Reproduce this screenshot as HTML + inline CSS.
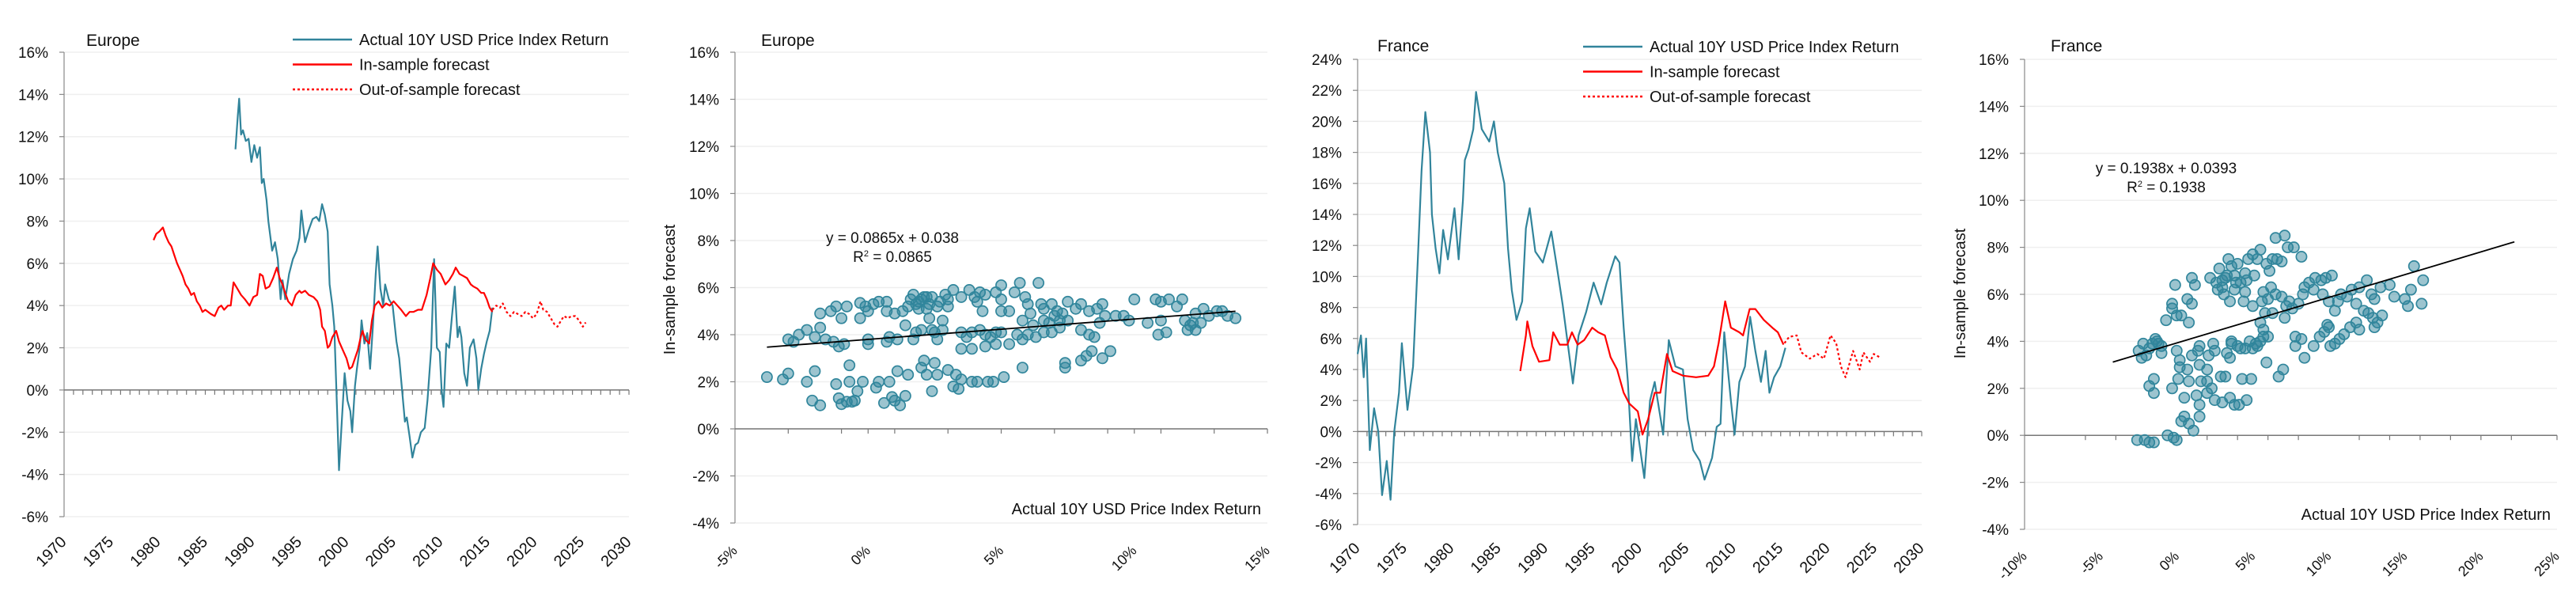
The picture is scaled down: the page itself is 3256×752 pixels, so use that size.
<!DOCTYPE html>
<html><head><meta charset="utf-8"><style>
html,body{margin:0;padding:0;background:#fff}
svg{display:block}
text{font-family:"Liberation Sans Narrow","Liberation Sans",sans-serif;fill:#111}
</style></head><body>
<svg id="c" width="3256" height="752" viewBox="0 0 3256 752" xmlns="http://www.w3.org/2000/svg"></svg>
<script>
// ---- Europe time series ----
const euActYears=[1988.2,1988.45,1988.6,1988.8,1989.0,1989.3,1989.6,1989.9,1990.2,1990.5,1990.8,1991.0,1991.2,1991.5,1991.7,1991.9,1992.1,1992.4,1992.7,1993.0,1993.2,1993.5,1993.9,1994.3,1994.7,1995.0,1995.2,1995.6,1996.0,1996.4,1996.8,1997.1,1997.4,1997.7,1998.0,1998.2,1998.5,1998.7,1999.0,1999.2,1999.5,1999.8,2000.1,2000.4,2000.6,2000.9,2001.1,2001.4,2001.6,2001.9,2002.2,2002.5,2002.8,2003.1,2003.3,2003.6,2003.9,2004.1,2004.5,2004.9,2005.3,2005.6,2005.9,2006.2,2006.4,2006.7,2007.0,2007.3,2007.6,2007.9,2008.3,2008.6,2009.0,2009.3,2009.6,2009.9,2010.1,2010.3,2010.6,2010.9,2011.2,2011.5,2011.8,2012.0,2012.2,2012.5,2012.8,2013.1,2013.5,2013.8,2014.0,2014.3,2014.6,2014.9,2015.2,2015.5];
const euActValues=[11.4,13.0,13.8,12.1,12.3,11.8,11.9,10.8,11.6,11.0,11.5,9.8,10.0,9.0,8.0,7.3,6.6,7.0,6.2,4.3,5.2,4.3,5.5,6.2,6.6,7.2,8.5,7.0,7.6,8.1,8.2,8.0,8.8,8.3,7.5,5.0,4.0,3.0,-1.0,-3.8,-1.5,0.8,-0.5,-1.0,-2.0,0.2,1.0,2.0,3.3,2.2,2.7,1.0,3.0,5.5,6.8,4.8,4.0,5.0,4.3,4.0,2.3,1.5,0.0,-1.5,-1.3,-2.2,-3.2,-2.6,-2.5,-2.0,-1.8,-0.5,2.0,6.2,2.0,1.8,0.0,-0.8,2.2,2.0,3.5,4.9,2.5,3.0,2.5,0.8,0.2,2.0,2.4,1.5,0.0,1.0,1.7,2.3,2.8,3.9];
const euInYears=[1979.5,1979.8,1980.1,1980.5,1980.8,1981.1,1981.4,1981.7,1982.0,1982.3,1982.6,1982.9,1983.2,1983.5,1983.8,1984.1,1984.4,1984.7,1985.0,1985.3,1985.6,1986.0,1986.4,1986.7,1987.0,1987.4,1987.7,1988.0,1988.4,1988.8,1989.2,1989.7,1990.1,1990.5,1990.8,1991.1,1991.4,1991.8,1992.2,1992.6,1992.9,1993.2,1993.4,1993.8,1994.2,1994.6,1995.0,1995.2,1995.6,1996.0,1996.5,1996.9,1997.2,1997.4,1997.7,1998.0,1998.2,1998.5,1998.9,1999.2,1999.6,2000.0,2000.3,2000.6,2000.9,2001.2,2001.5,2001.7,2002.0,2002.4,2002.7,2003.0,2003.4,2003.8,2004.2,2004.6,2005.0,2005.4,2005.8,2006.3,2006.7,2007.1,2007.6,2008.0,2008.5,2008.9,2009.2,2009.6,2010.0,2010.5,2010.9,2011.3,2011.6,2012.0,2012.4,2012.8,2013.2,2013.5,2013.9,2014.3,2014.6,2014.9,2015.2,2015.5];
const euInValues=[7.1,7.4,7.5,7.7,7.3,7.0,6.8,6.4,6.0,5.7,5.4,5.0,4.8,4.5,4.6,4.2,4.0,3.7,3.8,3.7,3.6,3.5,3.9,4.0,3.8,4.0,4.0,5.1,4.8,4.5,4.3,4.0,4.4,4.5,5.5,5.4,4.8,4.9,5.3,5.8,5.3,5.0,4.7,4.2,4.0,4.5,4.7,4.6,4.7,4.5,4.4,4.2,3.8,3.0,2.8,2.0,2.1,2.5,2.8,2.3,1.9,1.5,1.0,1.1,1.5,1.9,2.5,2.8,2.4,2.2,3.3,4.0,4.2,3.9,4.1,4.0,4.2,4.0,3.8,3.5,3.7,3.7,3.8,3.8,4.5,5.3,6.0,5.7,5.5,5.0,5.2,5.5,5.8,5.5,5.4,5.3,5.0,4.9,4.8,4.6,4.6,4.3,3.9,3.7];
const euOutYears=[2015.5,2015.9,2016.3,2016.6,2017.0,2017.4,2017.8,2018.2,2018.6,2019.0,2019.4,2019.8,2020.2,2020.6,2020.9,2021.3,2021.7,2022.1,2022.4,2022.8,2023.1,2023.5,2023.9,2024.3,2024.7,2025.1,2025.4];
const euOutValues=[3.8,4.0,3.9,4.1,3.7,3.5,3.7,3.6,3.5,3.7,3.6,3.4,3.6,4.2,3.8,3.7,3.4,3.1,3.0,3.3,3.5,3.4,3.5,3.5,3.3,3.0,3.2];
// ---- France time series ----
const frActYears=[1970.0,1970.35,1970.65,1970.9,1971.3,1971.75,1972.2,1972.6,1973.1,1973.5,1973.9,1974.4,1974.7,1975.3,1975.9,1976.4,1976.8,1977.2,1977.7,1977.9,1978.3,1978.7,1979.1,1979.6,1980.3,1980.75,1981.2,1981.4,1981.8,1982.3,1982.6,1983.2,1984.0,1984.5,1984.9,1985.6,1986.0,1986.4,1986.9,1987.5,1987.9,1988.3,1988.9,1989.7,1990.6,1991.2,1991.8,1992.6,1992.9,1993.5,1994.3,1995.1,1995.9,1996.5,1997.4,1997.85,1998.3,1998.75,1999.2,1999.6,2000.5,2001.1,2001.6,2002.5,2003.1,2003.8,2004.6,2005.1,2005.7,2006.4,2006.9,2007.7,2008.2,2008.6,2009.0,2009.7,2010.1,2010.6,2011.2,2011.75,2012.3,2012.9,2013.4,2013.8,2014.3,2014.95,2015.5];
const frActValues=[5.0,6.2,3.5,6.0,-1.2,1.5,0.0,-4.1,-1.9,-4.4,0.0,2.5,5.7,1.4,4.2,11.1,16.8,20.6,18.0,14.0,11.8,10.2,13.0,11.1,14.4,11.1,14.9,17.5,18.2,19.5,21.9,19.5,18.7,20.0,18.0,16.0,11.8,9.1,7.2,8.4,13.1,14.4,11.6,10.9,12.9,10.6,8.2,4.5,3.1,6.2,7.7,9.6,8.2,9.6,11.3,10.9,6.7,3.2,-1.9,0.8,-3.0,2.0,3.2,-0.2,5.9,4.2,4.0,0.8,-1.2,-1.9,-3.1,-1.7,0.3,0.5,6.4,2.0,-0.2,3.2,4.2,7.4,5.2,3.2,5.2,2.5,3.5,4.2,5.4];
const frInYears=[1987.3,1987.9,1988.05,1988.6,1989.3,1990.4,1990.8,1991.5,1992.3,1992.8,1993.4,1994.1,1994.95,1995.6,1996.3,1996.9,1997.6,1998.3,1998.9,1999.8,2000.3,2000.9,2001.6,2002.2,2002.9,2003.5,2004.6,2006.0,2007.3,2007.9,2008.4,2009.1,2009.7,2010.6,2011.0,2011.7,2012.3,2013.2,2014.1,2014.7,2015.3];
const frInValues=[3.9,6.2,7.1,5.5,4.5,4.6,6.4,5.6,5.6,6.4,5.6,5.9,6.7,6.4,6.2,4.8,4.0,2.5,1.8,1.3,-0.2,0.8,2.5,2.5,5.0,3.9,3.6,3.5,3.6,4.2,5.7,8.4,6.7,6.4,6.2,7.9,7.9,7.2,6.7,6.4,5.6];
const frOutYears=[2015.4,2015.9,2016.7,2017.2,2018.1,2018.9,2019.6,2020.3,2020.9,2021.4,2021.9,2022.7,2023.4,2023.8,2024.5,2024.9,2025.5];
const frOutValues=[5.7,6.1,6.2,5.1,4.7,5.0,4.7,6.2,5.7,4.2,3.5,5.2,4.0,5.1,4.5,5.0,4.8];
// ---- Europe scatter ----
const euScX=[-3.8,-3.2,-3.0,-2.3,-2.1,-1.8,-2.0,-1.2,-1.1,-1.0,-0.8,-0.6,-0.5,-0.7,-0.7,-0.4,-0.2,0.4,0.3,0.6,0.9,1.0,1.2,1.4,0.8,1.1,-3.0,-2.8,-2.6,-2.3,-2.0,-1.8,-1.6,-1.3,-1.1,-0.9,0.0,0.0,0.7,0.8,1.1,-1.8,-1.4,-1.2,-1.0,-0.8,-0.3,-0.3,-0.1,0.0,0.2,0.4,0.7,0.7,1.0,1.3,1.5,1.7,1.8,2.0,2.2,2.4,2.6,2.7,2.9,3.0,3.2,3.5,3.0,1.4,1.8,1.7,2.0,2.5,2.8,2.3,2.6,2.4,2.8,3.5,3.7,3.9,3.5,3.9,4.2,4.4,4.6,4.8,4.4,4.8,5.0,5.3,5.6,5.8,6.0,6.3,6.6,6.9,7.2,3.8,4.0,4.1,4.2,4.4,4.3,4.8,5.0,5.0,5.0,5.3,5.5,5.7,5.9,6.0,6.1,6.4,6.5,6.6,6.9,7.1,7.2,6.6,6.2,5.8,7.5,7.8,8.0,8.3,8.6,8.8,7.5,8.0,8.3,8.5,8.7,8.9,8.4,8.2,8.0,8.8,9.1,7.4,7.4,4.1,4.5,4.7,5.1,5.8,3.9,3.2,3.4,3.3,3.0,2.6,2.2,2.0,2.1,2.5,2.4,1.5,3.5,10.0,10.5,10.8,11.0,11.3,11.0,10.9,11.2,11.6,11.8,11.9,12.1,12.3,12.5,12.3,12.6,12.8,13.1,13.3,13.5,13.8,12.0,12.2,9.3,9.6,9.8,7.0,7.3,6.8,1.6,1.9,2.1,2.3,1.9,2.2];
const euScY=[2.2,2.1,2.35,2.0,1.2,1.0,2.45,1.9,1.3,1.05,1.15,1.15,1.2,2.0,2.7,1.6,2.0,2.0,1.75,1.1,1.35,1.2,1.0,1.4,2.0,2.45,3.8,3.7,4.0,4.2,3.9,4.3,3.8,3.7,3.5,3.6,3.6,3.8,3.7,3.9,3.8,4.9,5.0,5.2,4.7,5.2,5.35,4.7,5.2,5.0,5.3,5.4,5.4,5.0,4.9,5.0,5.2,5.7,5.3,5.5,5.1,5.6,5.2,5.4,5.7,5.5,5.9,5.6,5.2,4.4,4.1,3.8,4.2,4.1,4.6,4.7,3.8,4.2,4.2,4.1,3.9,4.1,3.4,3.4,4.2,4.0,3.9,4.1,3.5,3.6,4.1,3.6,4.0,3.8,4.0,3.9,4.1,4.1,4.3,5.9,5.6,5.4,5.8,5.7,5.0,5.8,6.1,5.5,5.0,5.0,5.8,6.2,5.6,5.3,4.9,6.2,5.3,5.1,5.3,5.0,4.6,4.6,4.4,4.6,5.4,5.1,5.3,5.0,5.1,5.3,4.6,4.2,4.0,3.9,4.5,4.8,3.3,3.1,2.9,3.0,3.3,2.8,2.6,2.0,2.0,2.0,2.2,2.6,2.0,1.8,1.7,2.3,2.5,2.3,2.3,2.6,2.9,2.8,1.6,2.3,2.1,5.5,4.5,5.5,5.4,5.5,4.6,4.0,4.1,5.2,5.5,4.6,4.4,4.2,4.5,4.9,5.1,4.8,5.0,5.0,4.8,4.7,4.2,4.5,4.8,4.8,4.6,4.8,4.9,4.5,5.5,5.4,5.6,5.3,5.1,5.6];
// ---- France scatter ----
const frScX=[-2.5,-2.2,-2.0,-1.8,-1.6,-1.4,-1.2,-1.0,-1.0,-1.3,-2.3,-1.8,-1.5,-1.5,-0.7,-0.3,0.0,-0.3,0.3,0.7,1.0,0.8,-0.1,1.0,1.2,-2.6,-2.1,-1.8,-1.5,-0.6,-0.2,0.0,0.3,0.5,0.8,1.1,1.5,1.5,0.5,-0.3,0.1,0.8,1.3,1.6,2.0,2.3,2.5,2.0,2.9,3.2,3.5,3.8,4.1,4.6,3.0,0.0,0.2,0.2,0.7,1.0,1.4,1.5,1.5,2.0,2.1,2.5,2.4,3.3,3.6,3.6,3.5,4.2,4.5,4.8,5.0,5.3,5.5,5.2,5.7,4.0,2.2,2.6,2.8,3.0,3.3,3.4,3.6,3.8,4.0,4.2,4.5,4.7,5.0,5.3,5.5,5.9,6.1,6.3,6.6,6.9,6.5,7.1,7.3,7.7,8.2,3.0,3.8,4.5,3.5,4.4,5.0,5.6,5.7,6.0,6.2,6.5,6.9,7.2,7.4,7.6,8.0,8.3,7.1,6.3,5.8,5.5,5.7,6.0,6.7,7.0,5.9,4.3,4.9,7.8,8.2,8.4,9.0,7.8,8.4,8.7,9.1,9.5,9.8,10.2,9.0,9.6,10.0,10.4,10.6,10.8,11.2,11.5,12.0,12.5,12.8,11.8,12.3,12.6,12.9,13.2,12.0,11.8,11.4,11.0,10.7,10.4,10.1,9.7,9.4,10.0,9.9,13.5,13.0,13.4,14.0,14.3,15.0,15.2,15.4,15.6,16.1,16.2,13.0,3.2,3.9,4.6,5.1,2.7,3.1];
const frScY=[3.6,3.9,3.4,3.7,3.9,4.1,3.9,3.5,3.8,4.0,3.3,2.1,2.4,1.8,4.9,5.4,5.1,5.6,5.1,5.8,5.6,4.8,6.4,6.7,6.4,-0.2,-0.2,-0.3,-0.3,0.0,-0.1,-0.2,0.6,0.8,0.5,0.2,0.8,1.3,1.6,2.0,2.4,2.3,1.7,2.3,2.3,2.0,1.5,1.8,2.5,2.5,1.6,1.3,1.3,1.5,1.4,3.6,3.2,2.9,2.8,3.4,3.6,3.8,3.0,2.8,3.4,3.6,3.9,3.5,3.9,4.0,3.3,3.7,3.7,4.0,3.7,3.8,4.0,3.9,4.2,3.8,6.7,6.5,7.1,6.3,6.8,7.5,7.2,6.8,7.3,6.5,6.9,7.5,7.7,7.5,7.9,7.3,7.0,7.5,7.5,7.4,8.4,8.5,8.0,8.0,7.6,6.6,6.2,6.1,5.7,5.7,5.5,5.7,6.1,5.8,6.3,6.0,5.9,5.5,5.7,5.4,5.6,6.0,5.0,5.2,5.2,4.8,4.5,4.2,2.5,2.8,3.1,2.4,2.4,3.8,4.1,3.3,3.8,4.2,6.3,6.5,6.7,6.6,6.7,6.8,6.2,6.0,5.7,5.3,5.7,6.0,5.9,6.2,6.3,6.6,6.0,5.6,5.3,5.2,5.0,4.8,4.5,4.8,4.6,4.3,4.1,3.9,3.8,4.4,4.2,4.6,4.7,5.1,5.8,6.3,6.4,5.9,5.8,5.5,6.2,7.2,5.6,6.6,4.6,6.7,6.5,6.6,6.8,6.2,6.0];

const NS='http://www.w3.org/2000/svg';
const svg=document.getElementById('c');
function el(tag,attrs,parent){const e=document.createElementNS(NS,tag);for(const k in attrs)e.setAttribute(k,attrs[k]);(parent||svg).appendChild(e);return e;}
const TEAL='#31849b', RED='#ff0000';

function makeAxes(p){
  const g=el('g',{});
  
  
  p.sx=v=>p.L+(v-p.x0)/(p.x1-p.x0)*(p.R-p.L);
  p.sy=v=>p.B-(v-p.y0)/(p.y1-p.y0)*(p.B-p.T);
  for(let v=p.y0;v<=p.y1+1e-9;v+=p.ys){
    const y=p.sy(v);
    const gl=el('line',{x1:p.L,x2:p.R,y1:y,y2:y,stroke:'#efefef','stroke-width':1.5},g);
    
    
    el('line',{x1:p.L-6,x2:p.L,y1:y,y2:y,stroke:'#888','stroke-width':1.2},g);
    const t=el('text',{x:p.L-20,y:y+7,'text-anchor':'end','font-size':19},g);
    
    
    t.textContent=v+'%';
  }
  el('line',{x1:p.L,x2:p.L,y1:p.T,y2:p.B,stroke:'#888','stroke-width':1.2},g);
  const y0=p.sy(0);
  el('line',{x1:p.L,x2:p.R,y1:y0,y2:y0,stroke:'#777','stroke-width':1.5},g);
  for(const v of p.minor){el('line',{x1:p.sx(v),x2:p.sx(v),y1:y0,y2:y0+6,stroke:'#777','stroke-width':1.2},g);}
  el('line',{x1:p.R,x2:p.R,y1:y0,y2:y0+6,stroke:'#777','stroke-width':1.2},g);
  for(let v=p.x0;v<=p.x1+1e-9;v+=p.xs){
    const x=p.sx(v)+p.labDX;
    const t=el('text',{x:x,y:p.labY,'text-anchor':'end','font-size':p.labFS,transform:`rotate(-45 ${x} ${p.labY})`},g);
    
    
    t.textContent=p.pct?v+'%':v;
  }
  const ti=el('text',{x:p.titleX,y:p.titleY,'font-size':21},g);
  
  
  ti.textContent=p.title;
  return g;
}
function line(p,xs,ys,color,dash,name){
  let d='';xs.forEach((x,i)=>{d+=(i?'L':'M')+p.sx(x).toFixed(1)+','+p.sy(ys[i]).toFixed(1);});
  const a={d:d,fill:'none',stroke:color,'stroke-width':2.2,'stroke-linejoin':'round'};
  if(dash)a['stroke-dasharray']='3,3';
  const e=el('path',a);
  
  
}
function legend(x,y,gap){
  const items=[[TEAL,false,'Actual 10Y USD Price Index Return'],[RED,false,'In-sample forecast'],[RED,true,'Out-of-sample forecast']];
  items.forEach((it,i)=>{
    const g=el('g',{});
    
    
    const yy=y+i*gap;
    const a={x1:x,x2:x+75,y1:yy,y2:yy,stroke:it[0],'stroke-width':2.5};
    if(it[1])a['stroke-dasharray']='3,3';
    el('line',a,g);
    const t=el('text',{x:x+84,y:yy+7,'font-size':20},g);
    t.textContent=it[2];
  });
}
function scatter(p,xs,ys,name){
  const g=el('g',{});
  
  
  xs.forEach((x,i)=>{
    const c=el('circle',{cx:p.sx(x),cy:p.sy(ys[i]),r:6.6,fill:'rgba(49,132,155,0.48)',stroke:'#31869c','stroke-width':1.7},g);
    
    
  });
}
function trend(p,a,b,xa,xb,eqX,eqY,eq,r2){
  const e=el('line',{x1:p.sx(xa),y1:p.sy(a*xa+b*100),x2:p.sx(xb),y2:p.sy(a*xb+b*100),stroke:'#000','stroke-width':1.8});
  
  
  const t=el('text',{x:eqX,y:eqY,'text-anchor':'middle','font-size':19});
  
  
  t.textContent=eq;
  const t2=el('text',{x:eqX,y:eqY+24,'text-anchor':'middle','font-size':19});
  
  
  t2.innerHTML='R<tspan dy="-7" font-size="11">2</tspan><tspan dy="7"> = '+r2+'</tspan>';
}
function axisTitles(p,xTitleX,xTitleY,yTitleX,yTitleY){
  const t=el('text',{x:xTitleX,y:xTitleY,'text-anchor':'end','font-size':20});
  
  
  t.textContent='Actual 10Y USD Price Index Return';
  const t2=el('text',{x:yTitleX,y:yTitleY,'text-anchor':'middle','font-size':20,transform:`rotate(-90 ${yTitleX} ${yTitleY})`});
  
  
  t2.textContent='In-sample forecast';
}
const years=[];for(let y=1971;y<2030;y++)years.push(y);

// Panel 1
const p1={name:'europe-timeseries',L:81,R:795,T:66,B:653,x0:1970,x1:2030,xs:5,y0:-6,y1:16,ys:2,minor:years,labY:686,labDX:4,labFS:20,pct:false,title:'Europe',titleX:109,titleY:58};
makeAxes(p1);
line(p1,euActYears,euActValues,TEAL,false,'europe-actual-line');
line(p1,euInYears,euInValues,RED,false,'europe-in-sample-line');
line(p1,euOutYears,euOutValues,RED,true,'europe-out-of-sample-line');
legend(370,50,31.5);

// Panel 2
const sm2=[-3,-1,0,1,3,5,7,9,10,11,13];
const p2={name:'europe-scatter',L:929,R:1602,T:66,B:661,x0:-5,x1:15,xs:5,y0:-4,y1:16,ys:2,minor:sm2,labY:697,labDX:4,labFS:18,pct:true,title:'Europe',titleX:962,titleY:58};
makeAxes(p2);
scatter(p2,euScX,euScY,'europe-scatter-points');
trend(p2,0.0865,0.038,-3.8,13.8,1128,307,'y = 0.0865x + 0.038','0.0865');
axisTitles(p2,1594,650,853,366);

// Panel 3
const p3={name:'france-timeseries',L:1716,R:2429,T:75,B:663,x0:1970,x1:2030,xs:5,y0:-6,y1:24,ys:2,minor:years,labY:694,labDX:4,labFS:20,pct:false,title:'France',titleX:1741,titleY:65};
makeAxes(p3);
line(p3,frActYears,frActValues,TEAL,false,'france-actual-line');
line(p3,frInYears,frInValues,RED,false,'france-in-sample-line');
line(p3,frOutYears,frOutValues,RED,true,'france-out-of-sample-line');
legend(2001,59,31.5);

// Panel 4
const sm4=[-6,-4,0,2,4,6,8,12,14,16,18,20,22];
const p4={name:'france-scatter',L:2559,R:3232,T:75,B:669,x0:-10,x1:25,xs:5,y0:-4,y1:16,ys:2,minor:sm4,labY:704,labDX:4,labFS:18,pct:true,title:'France',titleX:2592,titleY:65};
makeAxes(p4);
scatter(p4,frScX,frScY,'france-scatter-points');
trend(p4,0.1938,0.0393,-4.2,22.2,2738,219,'y = 0.1938x + 0.0393','0.1938');
axisTitles(p4,3224,657,2484,371);
</script>
</body></html>
